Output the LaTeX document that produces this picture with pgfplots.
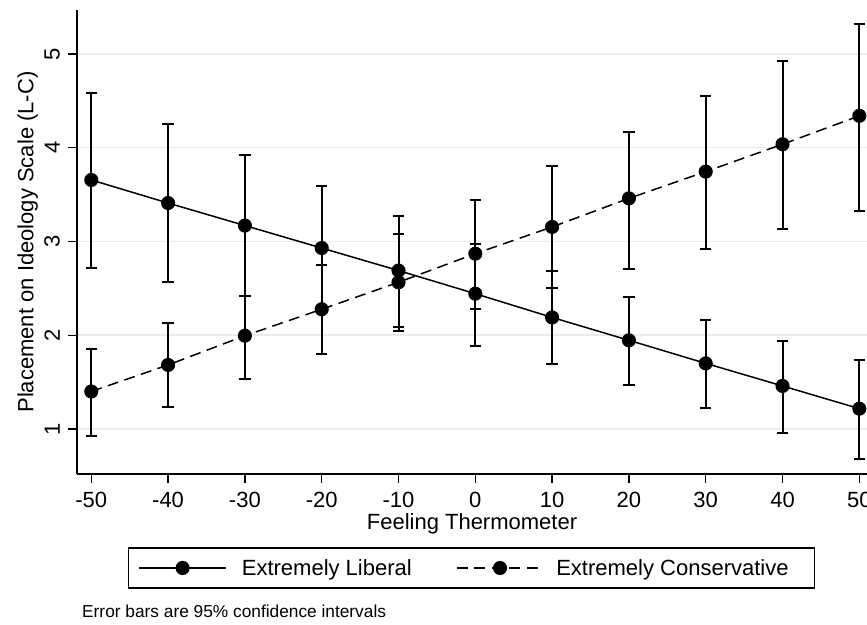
\documentclass[border=0pt]{standalone}
\usepackage{fontspec}
\setmainfont{Liberation Sans}
\usepackage{pgfplots}
\pgfplotsset{compat=1.18}
\usepackage{pgfplotstable}

\definecolor{gridc}{RGB}{228,238,239}

\pgfplotstableread{
x y lo hi
-50 3.656 2.72 4.58
-40 3.41 2.565 4.25
-30 3.17 2.415 3.92
-20 2.93 2.27 3.59
-10 2.69 2.09 3.27
0 2.443 1.89 2.97
10 2.19 1.69 2.68
20 1.946 1.47 2.41
30 1.70 1.227 2.16
40 1.459 0.96 1.935
50 1.217 0.677 1.736
}\liberal

\pgfplotstableread{
x y lo hi
-50 1.40 0.925 1.853
-40 1.683 1.238 2.127
-30 1.995 1.53 2.42
-20 2.277 1.80 2.75
-10 2.565 2.05 3.08
0 2.87 2.28 3.44
10 3.155 2.50 3.80
20 3.46 2.71 4.17
30 3.745 2.92 4.55
40 4.037 3.13 4.93
50 4.34 3.33 5.32
}\conservative

\begin{document}
\begin{tikzpicture}
\useasboundingbox (-77bp,-151bp) rectangle (790bp,474bp);
\clip (-77bp,-151bp) rectangle (790bp,474bp);
\begin{axis}[
  at={(0,0)}, anchor=south west,
  scale only axis, width=790bp, height=464bp,
  xmin=-51.86, xmax=51.0, ymin=0.52, ymax=5.469,
  axis x line*=bottom, axis y line*=left,
  axis line style={line width=1.3bp, black},
  xtick={-50,-40,...,50}, ytick={1,2,3,4,5},
  tick align=outside, major tick length=9bp,
  tick style={line width=1.3bp, black},
  ymajorgrids, grid style={gridc, line width=1.5bp},
  /pgf/number format/assume math mode=true,
  tick label style={font=\fontsize{22bp}{26bp}\selectfont},
  xticklabel style={anchor=north, inner sep=0pt, yshift=-8.7bp},
  yticklabel style={xshift=-8bp, rotate=90, anchor=south, inner sep=0pt},
  xlabel={Feeling Thermometer},
  xlabel style={at={(axis description cs:0.5,-0.1084)}, anchor=center, inner sep=0pt, font=\fontsize{22bp}{26bp}\selectfont},
  ylabel={Placement on Ideology Scale (L-C)},
  ylabel style={at={(axis description cs:-0.0625,0.5)}, anchor=center, rotate=0, inner sep=0pt, font=\fontsize{22bp}{26bp}\selectfont},
  legend columns=2,
  legend style={at={(0.0642,-0.158)}, anchor=north west, draw=black, line width=1.3bp,
    inner xsep=10bp, inner ysep=11.3bp, font=\fontsize{22bp}{26bp}\selectfont,
    column sep=0pt, nodes={inner sep=0pt}},
  legend image code/.code={\draw[#1, mark repeat=2, mark phase=2] plot coordinates {(0bp,0bp) (43.5bp,0bp) (87bp,0bp)};},
]
\addplot[black, line width=1.5bp, mark=*, mark size=6.3bp, mark options={solid},
  error bars/.cd, y dir=both, y explicit,
  error bar style={line width=2bp, solid},
  error mark options={rotate=90, line width=2bp, mark size=5.7bp, solid}]
  table[x=x, y=y, y error plus expr=\thisrow{hi}-\thisrow{y}, y error minus expr=\thisrow{y}-\thisrow{lo}] {\liberal};
\addlegendentry{\hspace*{15bp}Extremely Liberal\hspace*{44bp}}
\addplot[black, line width=1.5bp, dash pattern=on 11bp off 6.5bp, mark=*, mark size=6.3bp, mark options={solid},
  error bars/.cd, y dir=both, y explicit,
  error bar style={line width=2bp, solid},
  error mark options={rotate=90, line width=2bp, mark size=5.7bp, solid}]
  table[x=x, y=y, y error plus expr=\thisrow{hi}-\thisrow{y}, y error minus expr=\thisrow{y}-\thisrow{lo}] {\conservative};
\addlegendentry{\hspace*{12bp}Extremely Conservative\hspace*{16bp}}
\end{axis}
\node[anchor=west, inner sep=0pt, font=\fontsize{17.3bp}{20bp}\selectfont] at (5bp,-137bp) {Error bars are 95\% confidence intervals};
\end{tikzpicture}
\end{document}
